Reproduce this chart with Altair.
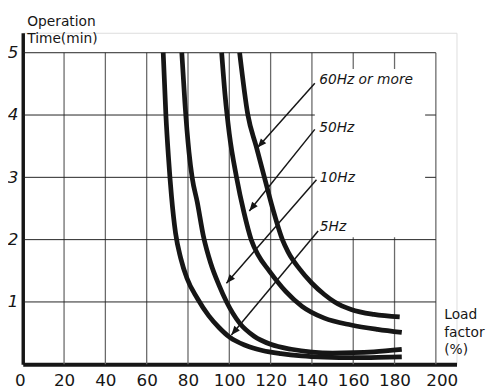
import math
import altair as alt
import pandas as pd

# ---- data ----
load_5hz = [68, 69.3, 70.6, 72, 74, 76.5, 79.5, 84.5, 90, 95, 100.3, 108, 116, 125, 135, 146, 160, 172, 183.5]
time_5hz = [5.0, 4.0, 3.3, 2.7, 2.1, 1.7, 1.38, 1.06, 0.78, 0.59, 0.43, 0.30, 0.22, 0.17, 0.135, 0.115, 0.105, 0.11, 0.12]

load_10hz = [77, 78.5, 80.5, 82, 84.5, 87.5, 91, 95, 98.7, 105, 112, 120, 130, 140, 150, 160, 170, 183.5]
time_10hz = [5.0, 4.2, 3.4, 3.0, 2.6, 2.05, 1.62, 1.27, 1.0, 0.66, 0.45, 0.32, 0.24, 0.195, 0.18, 0.185, 0.2, 0.24]

load_50hz = [96.3, 98, 100, 103.5, 107, 110.6, 114, 119.3, 127.3, 135.2, 146, 159, 171.7, 183.5]
time_50hz = [5.0, 4.3, 3.7, 3.0, 2.45, 2.0, 1.75, 1.5, 1.17, 0.93, 0.74, 0.63, 0.56, 0.51]

load_60hz = [105, 109, 113, 117, 121, 125.7, 128.5, 134, 140, 146, 151, 159, 170, 182.5]
time_60hz = [5.0, 4.0, 3.5, 3.0, 2.5, 2.0, 1.8, 1.53, 1.3, 1.12, 1.0, 0.88, 0.8, 0.76]

series_names = ["5Hz", "10Hz", "50Hz", "60Hz or more"]

x_ticks = [0, 20, 40, 60, 80, 100, 120, 140, 160, 180, 200]
y_ticks = [1, 2, 3, 4, 5]

# annotations (data coordinates)
label_text = ["60Hz or more", "50Hz", "10Hz", "5Hz"]
label_x = [143.5, 143.5, 143.8, 143.8]
label_y = [4.50, 3.72, 2.93, 2.14]
arrow_x0 = [141.4, 141.4, 142.2, 143.0]
arrow_y0 = [4.51, 3.77, 2.96, 2.14]
arrow_x1 = [113.7, 109.7, 98.6, 101.0]
arrow_y1 = [3.48, 2.46, 1.30, 0.47]

box_x, box_x2 = [141.4], [194.8]
box_y, box_y2 = [2.04], [4.74]

# ---- layout ----
X_MAX, Y_MAX = 210, 5.32
W, H = 441, 337
FONT = "DejaVu Sans"
INK = "#161616"

xs = alt.Scale(domain=[0, X_MAX], nice=False, zero=False)
ys = alt.Scale(domain=[0, Y_MAX], nice=False, zero=False)

x_axis = alt.Axis(
    values=x_ticks, ticks=False, grid=False, domainWidth=4, domainColor=INK,
    labelFont=FONT, labelFontSize=17, labelColor=INK, labelPadding=9,
    labelFlush=False, labelOverlap=False,
    labelOffset={"condition": [{"test": "datum.value == 200", "value": 6},
                               {"test": "datum.value == 0", "value": -3}],
                 "value": 0},
    title=["Load", "factor", "(%)"], titleX=428, titleY=-46.6, titleAngle=0,
    titleAlign="left", titleBaseline="alphabetic", titleFont=FONT,
    titleFontSize=14, titleFontWeight="normal", titleColor=INK, titleLineHeight=18,
)
y_axis = alt.Axis(
    values=y_ticks, ticks=False, grid=False, domainWidth=3.5, domainColor=INK,
    labelFont=FONT, labelFontSize=17, labelFontStyle="italic", labelColor=INK,
    labelPadding=5, labelFlush=False, labelOverlap=False,
    title=["Operation", "Time(min)"], titleX=4, titleY=-7.5, titleAngle=0,
    titleAlign="left", titleBaseline="alphabetic", titleFont=FONT,
    titleFontSize=14, titleFontWeight="normal", titleColor=INK, titleLineHeight=17.7,
)

def X(field="x"):
    return alt.X(f"{field}:Q", scale=xs, axis=x_axis)

def Y(field="y"):
    return alt.Y(f"{field}:Q", scale=ys, axis=y_axis)

# grid
vgrid = pd.DataFrame({"x": x_ticks[1:], "y": [0] * (len(x_ticks) - 1),
                      "y2": [max(y_ticks)] * (len(x_ticks) - 1)})
hgrid = pd.DataFrame({"y": y_ticks, "x": [0] * len(y_ticks),
                      "x2": [max(x_ticks)] * len(y_ticks)})

vlines = alt.Chart(vgrid).mark_rule(color="#6a6a6a", strokeWidth=1.3).encode(
    x=X(), y=Y(), y2="y2:Q")
hlines = alt.Chart(hgrid).mark_rule(color="#222222", strokeWidth=1).encode(
    y=Y(), x=X(), x2="x2:Q")

box = alt.Chart(pd.DataFrame({"x": box_x, "x2": box_x2, "y": box_y, "y2": box_y2})).mark_rect(
    color="white").encode(x=X(), x2="x2:Q", y=Y(), y2="y2:Q")

# curves
rows = []
for name, xs_, ys_ in zip(series_names, [load_5hz, load_10hz, load_50hz, load_60hz],
                          [time_5hz, time_10hz, time_50hz, time_60hz]):
    for i, (a, b) in enumerate(zip(xs_, ys_)):
        rows.append({"series": name, "x": a, "y": b, "i": i})
curves_df = pd.DataFrame(rows)

curves = alt.Chart(curves_df).mark_line(
    color=INK, strokeWidth=4.8, interpolate="monotone", strokeCap="butt").encode(
    x=X(), y=Y(), detail="series:N", order="i:Q")

# arrows
kx = W / X_MAX
ky = H / Y_MAX
angles = []
for a0, b0, a1, b1 in zip(arrow_x0, arrow_y0, arrow_x1, arrow_y1):
    dxp = (a1 - a0) * kx
    dyp = -(b1 - b0) * ky
    angles.append(math.degrees(math.atan2(dxp, -dyp)) % 360)

arrows_df = pd.DataFrame({"x": arrow_x0, "y": arrow_y0, "x2": arrow_x1, "y2": arrow_y1,
                          "ang": angles})
arrow_lines = alt.Chart(arrows_df).mark_rule(color=INK, strokeWidth=1.5).encode(
    x=X(), y=Y(), x2="x2:Q", y2="y2:Q")

head_df = pd.DataFrame({"x": arrow_x1, "y": arrow_y1, "ang": angles})
heads = alt.Chart(head_df).mark_point(
    shape="M0,0L-0.4,1L0.4,1Z", filled=True, size=330, color=INK, opacity=1,
    strokeWidth=0).encode(x=X(), y=Y(), angle=alt.Angle("ang:Q", scale=None))

labels_df = pd.DataFrame({"x": label_x, "y": label_y, "t": label_text})
labels = alt.Chart(labels_df).mark_text(
    align="left", baseline="alphabetic", font=FONT, fontStyle="italic",
    fontSize=14, color=INK).encode(x=X(), y=Y(), text="t:N")

chart = alt.layer(vlines, hlines, box, curves, arrow_lines, heads, labels).properties(
    width=W, height=H,
    autosize=alt.AutoSizeParams(type="none"),
    padding={"left": 15, "top": 22, "right": 31, "bottom": 24},
).configure_view(stroke=None).configure(background="white")

chart.save("out.html", embed_options={"renderer": "svg", "actions": False})
